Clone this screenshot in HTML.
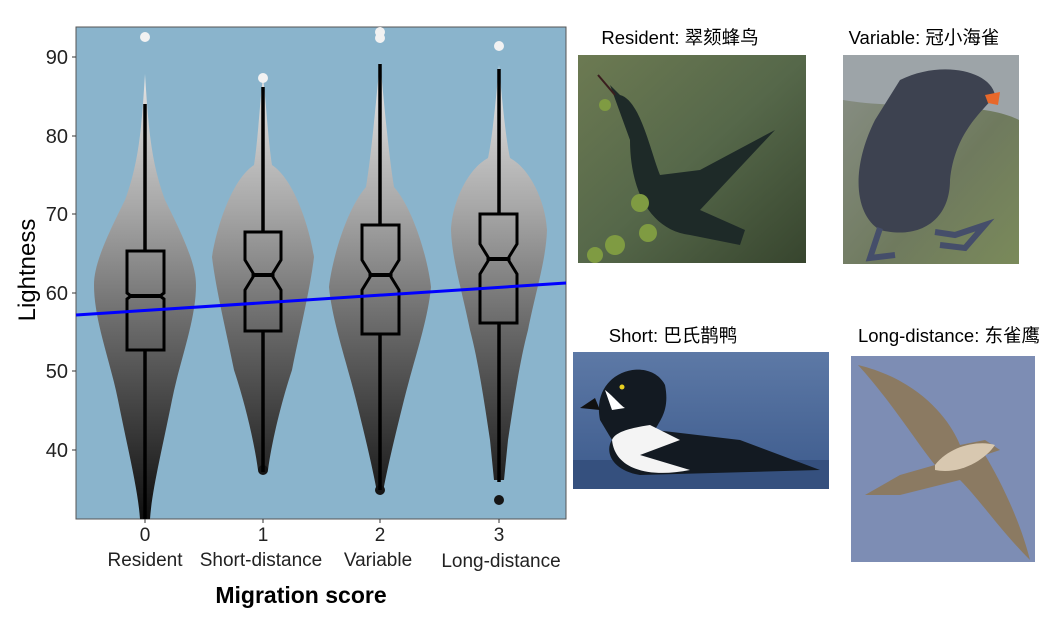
<!DOCTYPE html>
<html><head><meta charset="utf-8"><style>
body{margin:0;background:#fff;width:1058px;height:620px;overflow:hidden}
svg{display:block}
text{font-family:"Liberation Sans","Noto Sans CJK SC",sans-serif}
</style></head><body>
<svg width="1058" height="620" viewBox="0 0 1058 620" xmlns="http://www.w3.org/2000/svg">
<defs>
<linearGradient id="vg" gradientUnits="userSpaceOnUse" x1="0" y1="40" x2="0" y2="515">
<stop offset="0" stop-color="#f4f4f4"/><stop offset="0.35" stop-color="#a8a8a8"/><stop offset="0.6" stop-color="#6a6a6a"/><stop offset="1" stop-color="#111"/></linearGradient>
<linearGradient id="g1" x1="0" y1="0" x2="1" y2="1"><stop offset="0" stop-color="#6c7a52"/><stop offset="0.5" stop-color="#56684a"/><stop offset="1" stop-color="#37452e"/></linearGradient>
<linearGradient id="g2" x1="0" y1="0" x2="1" y2="1"><stop offset="0" stop-color="#8a9088"/><stop offset="0.6" stop-color="#6f7a5e"/><stop offset="1" stop-color="#7a8a5a"/></linearGradient>
<linearGradient id="g3" x1="0" y1="0" x2="0" y2="1"><stop offset="0" stop-color="#5d79a6"/><stop offset="1" stop-color="#3c5a8c"/></linearGradient>
</defs>
<rect x="76" y="27" width="490" height="492" fill="#8ab4cc" stroke="#555" stroke-width="1"/>
<path d="M145,74 C148,120 150,160 165,200 C185,240 196,265 196,285 C196,320 180,360 172,400 C162,450 152,490 150,519 L140,519 C138,490 128,450 118,400 C110,360 94,320 94,285 C94,265 105,240 125,200 C140,160 142,120 145,74Z" fill="url(#vg)"/>
<path d="M263,77 C266,100 268,140 272,165 C295,180 310,230 314,257 C310,290 300,330 292,370 C282,400 272,440 268,470 L258,470 C254,440 244,400 234,370 C226,330 216,290 212,257 C216,230 231,180 254,165 C258,140 260,100 263,77Z" fill="url(#vg)"/>
<path d="M380,62 C384,100 388,150 394,187 C414,210 428,260 431,287 C428,320 414,360 404,400 C394,440 387,470 383,492 L377,492 C373,470 366,440 356,400 C346,360 332,320 329,287 C332,260 346,210 366,187 C372,150 376,100 380,62Z" fill="url(#vg)"/>
<path d="M499,65 C502,100 506,140 510,158 C532,170 546,205 547,230 C546,260 536,290 528,330 C520,360 514,400 508,440 L504,480 L494,480 L490,440 C484,400 478,360 470,330 C462,290 452,260 451,230 C452,205 466,170 488,158 C492,140 496,100 499,65Z" fill="url(#vg)"/>
<g fill="#f2f2f2"><circle cx="145" cy="37" r="5"/><circle cx="380" cy="32" r="5"/><circle cx="380" cy="38" r="5"/><circle cx="499" cy="46" r="5"/><circle cx="263" cy="78" r="5"/></g>
<g fill="#151515"><circle cx="499" cy="500" r="5"/><circle cx="380" cy="490" r="5"/><circle cx="263" cy="470" r="5"/></g>
<g stroke="#000" stroke-width="3.5" fill="none">
<line x1="145" y1="104" x2="145" y2="519"/>
<line x1="263" y1="87" x2="263" y2="472"/>
<line x1="380" y1="64" x2="380" y2="490"/>
<line x1="499" y1="69" x2="499" y2="482"/>
</g>
<g stroke="#000" stroke-width="3" fill="url(#vg)">
<path d="M127,251 H164 V293 L160,296 L164,299 V350 H127 V299 L131,296 L127,293Z"/>
<path d="M245,232 H281 V260 L273,273 V277 L281,290 V331 H245 V290 L253,277 V273 L245,260Z"/>
<path d="M362,225 H399 V260 L391,273 V277 L399,290 V334 H362 V290 L370,277 V273 L362,260Z"/>
<path d="M480,214 H517 V244 L509,257 V261 L517,274 V323 H480 V274 L488,261 V257 L480,244Z"/>
</g>
<g stroke="#000" stroke-width="4"><line x1="131" y1="296" x2="160" y2="296"/><line x1="253" y1="275" x2="273" y2="275"/><line x1="370" y1="275" x2="391" y2="275"/><line x1="488" y1="259" x2="509" y2="259"/></g>
<line x1="76" y1="315" x2="566" y2="283" stroke="#0000ff" stroke-width="3"/>
<g stroke="#333" stroke-width="1">
<line x1="72" y1="57" x2="76" y2="57"/><line x1="72" y1="136" x2="76" y2="136"/><line x1="72" y1="214" x2="76" y2="214"/><line x1="72" y1="293" x2="76" y2="293"/><line x1="72" y1="371" x2="76" y2="371"/><line x1="72" y1="450" x2="76" y2="450"/>
<line x1="145" y1="519" x2="145" y2="523"/><line x1="263" y1="519" x2="263" y2="523"/><line x1="380" y1="519" x2="380" y2="523"/><line x1="499" y1="519" x2="499" y2="523"/>
</g>
<g font-size="20" fill="#222" text-anchor="end">
<text x="68" y="64">90</text><text x="68" y="143">80</text><text x="68" y="221">70</text><text x="68" y="300">60</text><text x="68" y="378">50</text><text x="68" y="457">40</text>
</g>
<g font-size="19" fill="#222" text-anchor="middle">
<text x="145" y="541">0</text><text x="263" y="541">1</text><text x="380" y="541">2</text><text x="499" y="541">3</text>
<text x="145" y="566">Resident</text><text x="261" y="566">Short-distance</text><text x="378" y="566">Variable</text><text x="501" y="567">Long-distance</text>
</g>
<text x="301" y="603" font-size="23" font-weight="bold" text-anchor="middle" fill="#000">Migration score</text>
<text transform="translate(35,270) rotate(-90)" font-size="24" text-anchor="middle" fill="#000">Lightness</text>

<g font-size="18.5" fill="#000" text-anchor="middle">
<text x="680" y="44">Resident: 翠颏蜂鸟</text>
<text x="924" y="44">Variable: 冠小海雀</text>
<text x="673" y="342">Short: 巴氏鹊鸭</text>
<text x="949" y="342">Long-distance: 东雀鹰</text>
</g>
<rect x="578" y="55" width="228" height="208" fill="url(#g1)"/>
<path d="M610,85 L630,140 C630,190 650,230 690,235 L740,245 L745,230 L700,210 L775,130 L700,170 L660,175 C650,150 640,100 620,95Z" fill="#1e2a28"/>
<path d="M598,75 L615,95" stroke="#3a1e1e" stroke-width="2"/>
<g fill="#7f9b42"><circle cx="605" cy="105" r="6"/><circle cx="640" cy="203" r="9"/><circle cx="648" cy="233" r="9"/><circle cx="615" cy="245" r="10"/><circle cx="595" cy="255" r="8"/></g>
<rect x="843" y="55" width="176" height="209" fill="url(#g2)"/>
<path d="M843,55 H1019 V120 C980,100 900,110 843,100Z" fill="#9da4a8"/>
<path d="M900,80 C940,60 990,70 995,95 C985,110 955,130 950,180 C950,220 920,240 880,230 C855,215 850,170 875,120Z" fill="#3d4250"/>
<path d="M985,95 L1000,92 L998,105 L988,103Z" fill="#e8682a"/>
<path d="M880,228 L870,258 L895,255 M935,232 L955,235 L985,225 L965,248 L940,245" stroke="#454e6a" stroke-width="6" fill="none"/>
<rect x="573" y="352" width="256" height="137" fill="url(#g3)"/>
<path d="M573,460 H829 V489 H573Z" fill="#35507e"/>
<path d="M600,420 C590,370 650,355 665,385 C670,410 660,420 655,430 L740,440 L820,470 L640,475 C610,470 605,450 612,440Z" fill="#131a22"/>
<path d="M612,440 C615,470 650,478 690,470 L640,455 L680,440 L650,425 C630,428 615,432 612,440Z" fill="#f4f4f4"/>
<path d="M605,390 C612,395 620,405 625,408 L612,410Z" fill="#fff"/>
<path d="M595,398 L580,408 L600,410Z" fill="#111"/>
<circle cx="622" cy="387" r="2.5" fill="#e8d020"/>
<rect x="851" y="356" width="184" height="206" fill="#7d8db4"/>
<path d="M858,365 C920,380 950,420 960,445 L985,440 L1000,450 L985,455 C1000,480 1020,520 1030,560 C1000,530 980,500 960,480 L900,495 L865,495 L900,475 L935,465 C915,440 890,400 858,365Z" fill="#8b7a62"/>
<path d="M935,465 C950,445 980,440 995,445 C985,460 960,475 935,470Z" fill="#d8c8b0"/>
</svg>
</body></html>
